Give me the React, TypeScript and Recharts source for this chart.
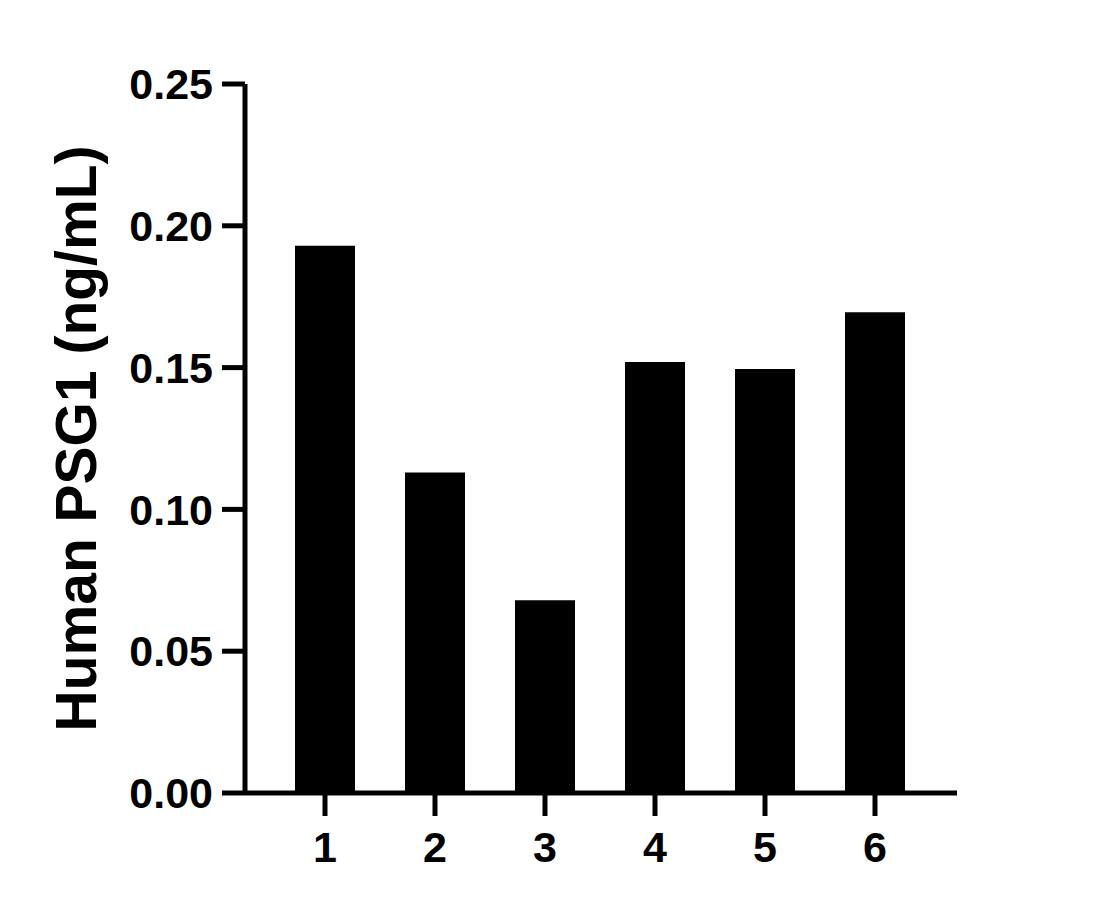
import React from "react"
import { BarChart, Bar, XAxis, YAxis } from "recharts"

const samples = ["1", "2", "3", "4", "5", "6"]
const psg1Values = [0.193, 0.113, 0.068, 0.152, 0.1495, 0.1695]
const yTicks = [0, 0.05, 0.1, 0.15, 0.2, 0.25]

const data = samples.map((s, i) => ({ sample: s, value: psg1Values[i] }))

const font = "'Liberation Sans', Arial, sans-serif"

export default function App() {
  return (
    <div style={{ position: "absolute", left: 0, top: 0, background: "#fff" }}>
      <BarChart
        width={1093}
        height={910}
        data={data}
        margin={{ top: 84, right: 136, bottom: 57, left: 0 }}
      >
        <XAxis
          dataKey="sample"
          padding={{ left: 25, right: 27 }}
          height={60}
          axisLine={{ stroke: "#000", strokeWidth: 5 }}
          tickLine={{ stroke: "#000", strokeWidth: 5 }}
          tickSize={23}
          tickMargin={15}
          tick={{ fill: "#000", fontSize: 43, fontWeight: "bold", fontFamily: font }}
        />
        <YAxis
          width={245}
          domain={[0, 0.25]}
          ticks={yTicks}
          tickFormatter={(v: number) => v.toFixed(2)}
          axisLine={{ stroke: "#000", strokeWidth: 5 }}
          tickLine={{ stroke: "#000", strokeWidth: 5 }}
          tickSize={23}
          tickMargin={9}
          tick={{ fill: "#000", fontSize: 43, fontWeight: "bold", fontFamily: font }}
          label={{
            value: "Human PSG1 (ng/mL)",
            angle: -90,
            position: "center",
            dx: -47,
            style: { fill: "#000", fontSize: 57, fontWeight: "bold", fontFamily: font },
          }}
        />
        <Bar dataKey="value" fill="#000" barSize={60} isAnimationActive={false} />
      </BarChart>
    </div>
  )
}
